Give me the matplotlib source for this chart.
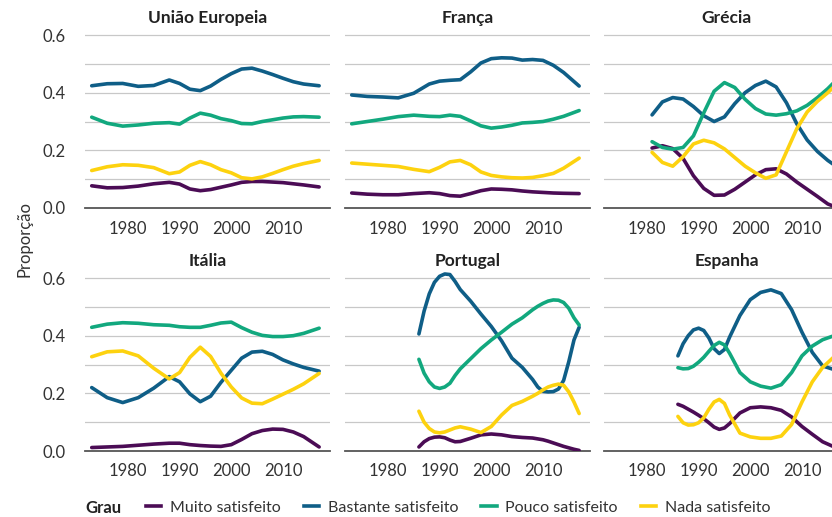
import numpy as np
import matplotlib
matplotlib.use("Agg")
import matplotlib.pyplot as plt
from matplotlib.lines import Line2D

plt.rcParams['font.family'] = ['Lato', 'DejaVu Sans']

# Dados
graus = ["Muito satisfeito", "Bastante satisfeito", "Pouco satisfeito", "Nada satisfeito"]
cores = ["#4b0c55", "#0f5e87", "#12a87e", "#fdd20f"]

anos_longo = [1973, 1976, 1979, 1982, 1985, 1988, 1990, 1992, 1994, 1996,
              1998, 2000, 2002, 2004, 2006, 2008, 2010, 2012, 2014, 2017]

ue_muito = [0.077, 0.070, 0.071, 0.076, 0.084, 0.089, 0.083, 0.066, 0.060, 0.064,
            0.072, 0.080, 0.089, 0.092, 0.092, 0.090, 0.088, 0.084, 0.080, 0.073]
ue_bastante = [0.424, 0.431, 0.432, 0.422, 0.425, 0.444, 0.432, 0.412, 0.407, 0.423,
               0.446, 0.466, 0.482, 0.485, 0.475, 0.463, 0.450, 0.438, 0.430, 0.424]
ue_pouco = [0.315, 0.294, 0.284, 0.288, 0.294, 0.296, 0.291, 0.312, 0.329, 0.322,
            0.310, 0.303, 0.293, 0.292, 0.300, 0.306, 0.312, 0.316, 0.317, 0.315]
ue_nada = [0.130, 0.143, 0.150, 0.148, 0.140, 0.119, 0.125, 0.148, 0.161, 0.150,
           0.133, 0.122, 0.105, 0.101, 0.108, 0.120, 0.133, 0.145, 0.154, 0.165]

fr_muito = [0.052, 0.048, 0.046, 0.046, 0.050, 0.053, 0.050, 0.043, 0.041, 0.050,
            0.060, 0.066, 0.065, 0.063, 0.059, 0.056, 0.054, 0.052, 0.051, 0.050]
fr_bastante = [0.392, 0.387, 0.385, 0.382, 0.398, 0.430, 0.440, 0.443, 0.445, 0.472,
               0.503, 0.518, 0.521, 0.520, 0.513, 0.515, 0.512, 0.495, 0.470, 0.423]
fr_pouco = [0.292, 0.300, 0.308, 0.317, 0.322, 0.318, 0.317, 0.322, 0.318, 0.302,
            0.285, 0.277, 0.281, 0.287, 0.295, 0.297, 0.300, 0.308, 0.318, 0.338]
fr_nada = [0.156, 0.152, 0.148, 0.144, 0.134, 0.126, 0.141, 0.160, 0.165, 0.150,
           0.125, 0.113, 0.108, 0.105, 0.104, 0.106, 0.112, 0.120, 0.138, 0.173]

it_muito = [0.012, 0.014, 0.016, 0.020, 0.024, 0.027, 0.027, 0.022, 0.019, 0.017,
            0.016, 0.022, 0.040, 0.060, 0.071, 0.076, 0.075, 0.066, 0.050, 0.014]
it_bastante = [0.220, 0.185, 0.168, 0.185, 0.218, 0.258, 0.240, 0.198, 0.171, 0.190,
               0.238, 0.280, 0.322, 0.343, 0.346, 0.335, 0.316, 0.302, 0.290, 0.277]
it_pouco = [0.429, 0.440, 0.445, 0.443, 0.438, 0.436, 0.431, 0.429, 0.429, 0.436,
            0.444, 0.447, 0.428, 0.412, 0.401, 0.397, 0.397, 0.400, 0.408, 0.426]
it_nada = [0.327, 0.344, 0.347, 0.330, 0.287, 0.250, 0.272, 0.325, 0.360, 0.328,
           0.270, 0.222, 0.184, 0.166, 0.164, 0.180, 0.197, 0.214, 0.233, 0.269]

anos_gr = [1981, 1983, 1985, 1987, 1989, 1991, 1993, 1995, 1997, 1999,
           2001, 2003, 2005, 2007, 2009, 2011, 2013, 2015, 2017]
gr_muito = [0.208, 0.216, 0.206, 0.172, 0.112, 0.068, 0.044, 0.045, 0.065, 0.090,
            0.115, 0.133, 0.136, 0.118, 0.090, 0.065, 0.040, 0.014, 0.000]
gr_bastante = [0.323, 0.368, 0.383, 0.378, 0.352, 0.320, 0.300, 0.316, 0.362, 0.400,
               0.425, 0.440, 0.420, 0.365, 0.292, 0.236, 0.196, 0.165, 0.140]
gr_pouco = [0.230, 0.210, 0.204, 0.210, 0.250, 0.330, 0.405, 0.435, 0.418, 0.377,
            0.345, 0.326, 0.322, 0.327, 0.337, 0.356, 0.383, 0.414, 0.450]
gr_nada = [0.193, 0.158, 0.145, 0.178, 0.222, 0.235, 0.226, 0.205, 0.175, 0.145,
           0.122, 0.103, 0.115, 0.195, 0.275, 0.333, 0.370, 0.400, 0.435]

anos_pt = [1986, 1987, 1988, 1989, 1990, 1991, 1992, 1993, 1994, 1996, 1998, 2000,
           2002, 2004, 2006, 2008, 2009, 2010, 2011, 2012, 2013, 2014, 2015, 2016, 2017]
pt_muito = [0.014, 0.032, 0.043, 0.048, 0.049, 0.046, 0.038, 0.032, 0.033, 0.044, 0.056, 0.059,
            0.056, 0.050, 0.047, 0.045, 0.042, 0.039, 0.034, 0.028, 0.022, 0.016, 0.011, 0.006, 0.002]
pt_bastante = [0.406, 0.485, 0.545, 0.585, 0.606, 0.614, 0.612, 0.588, 0.560, 0.520, 0.475, 0.432,
               0.382, 0.322, 0.290, 0.248, 0.222, 0.207, 0.205, 0.206, 0.215, 0.245, 0.310, 0.385, 0.429]
pt_pouco = [0.318, 0.270, 0.240, 0.222, 0.217, 0.222, 0.235, 0.262, 0.285, 0.320, 0.355, 0.385,
            0.412, 0.440, 0.462, 0.490, 0.502, 0.512, 0.520, 0.524, 0.523, 0.515, 0.495, 0.462, 0.437]
pt_nada = [0.138, 0.100, 0.078, 0.066, 0.063, 0.066, 0.073, 0.080, 0.084, 0.076, 0.064, 0.085,
           0.125, 0.158, 0.172, 0.190, 0.200, 0.212, 0.222, 0.228, 0.232, 0.228, 0.205, 0.170, 0.130]

anos_es = [1986, 1987, 1988, 1989, 1990, 1991, 1992, 1993, 1994, 1995, 1996,
           1998, 2000, 2002, 2004, 2006, 2008, 2010, 2012, 2014, 2017]
es_muito = [0.162, 0.155, 0.145, 0.135, 0.124, 0.112, 0.098, 0.083, 0.075, 0.080, 0.095,
            0.132, 0.150, 0.153, 0.150, 0.141, 0.118, 0.085, 0.058, 0.032, 0.008]
es_bastante = [0.330, 0.372, 0.400, 0.420, 0.426, 0.418, 0.392, 0.355, 0.338, 0.352, 0.395,
               0.470, 0.525, 0.550, 0.559, 0.546, 0.490, 0.412, 0.342, 0.295, 0.278]
es_pouco = [0.289, 0.285, 0.286, 0.294, 0.308, 0.325, 0.346, 0.366, 0.377, 0.368, 0.339,
            0.272, 0.240, 0.225, 0.218, 0.230, 0.272, 0.330, 0.364, 0.386, 0.405]
es_nada = [0.120, 0.098, 0.090, 0.091, 0.098, 0.115, 0.145, 0.170, 0.179, 0.165, 0.125,
           0.062, 0.049, 0.044, 0.044, 0.052, 0.092, 0.170, 0.240, 0.290, 0.340]

paises = [
    ("União Europeia", anos_longo, [ue_muito, ue_bastante, ue_pouco, ue_nada]),
    ("França", anos_longo, [fr_muito, fr_bastante, fr_pouco, fr_nada]),
    ("Grécia", anos_gr, [gr_muito, gr_bastante, gr_pouco, gr_nada]),
    ("Itália", anos_longo, [it_muito, it_bastante, it_pouco, it_nada]),
    ("Portugal", anos_pt, [pt_muito, pt_bastante, pt_pouco, pt_nada]),
    ("Espanha", anos_es, [es_muito, es_bastante, es_pouco, es_nada]),
]

# Layout em pixels (figura 832x517); a terceira coluna fica cortada à direita
W, H = 832, 517
fig = plt.figure(figsize=(W / 100, H / 100), dpi=100)
col_left = [85, 345, 604]
row_zero = [208, 451]     # y (px) do 0.0
px_por_unid = 288.3
ymax = 0.63
largura = 245

texto_cor = "#333333"
for i, (nome, anos, series) in enumerate(paises):
    r, c = divmod(i, 3)
    left = col_left[c] / W
    bottom = (H - row_zero[r]) / H
    height = ymax * px_por_unid / H
    ax = fig.add_axes([left, bottom, largura / W, height])
    for serie, cor in zip(series, cores):
        ax.plot(anos, serie, color=cor, lw=2.6, solid_capstyle='round',
                solid_joinstyle='round', zorder=3)
    ax.set_xlim(1971.7, 2019.1)
    ax.set_ylim(0, ymax)
    for y in np.arange(0.1, 0.61, 0.1):
        ax.axhline(y, color="#c8c8c8", lw=0.9, zorder=1)
    ax.set_yticks([0.0, 0.2, 0.4, 0.6])
    ax.set_xticks([1980, 1990, 2000, 2010])
    ax.tick_params(length=0, labelsize=12, colors=texto_cor)
    ax.tick_params(axis='y', pad=14)
    ax.tick_params(axis='x', pad=9)
    if c == 0:
        ax.set_yticklabels(["0.0", "0.2", "0.4", "0.6"])
    else:
        ax.set_yticklabels([])
    for s in ["top", "right", "left"]:
        ax.spines[s].set_visible(False)
    ax.spines["bottom"].set_color("#555555")
    ax.spines["bottom"].set_linewidth(1.3)
    ax.set_title(nome, fontsize=12.5, fontweight="bold", color="#222222", pad=-4)

fig.text(25 / W, 1 - 239 / H, "Proporção", rotation=90, ha="center", va="center",
         fontsize=12, color=texto_cor)

# Legenda
fig.text(85 / W, 1 - 508 / H, "Grau", fontsize=12, fontweight="bold",
         color="#222222", ha="left", va="center")
handles = [Line2D([0], [0], color=cor, lw=2.6) for cor in cores]
fig.legend(handles, graus, loc="center left", bbox_to_anchor=(146 / W, 1 - 508 / H),
           ncol=4, frameon=False, fontsize=11.5, handlelength=0.95, handletextpad=0.55,
           columnspacing=1.45, labelcolor=texto_cor, borderaxespad=0, borderpad=0)

fig.savefig("out.png", dpi=100)
